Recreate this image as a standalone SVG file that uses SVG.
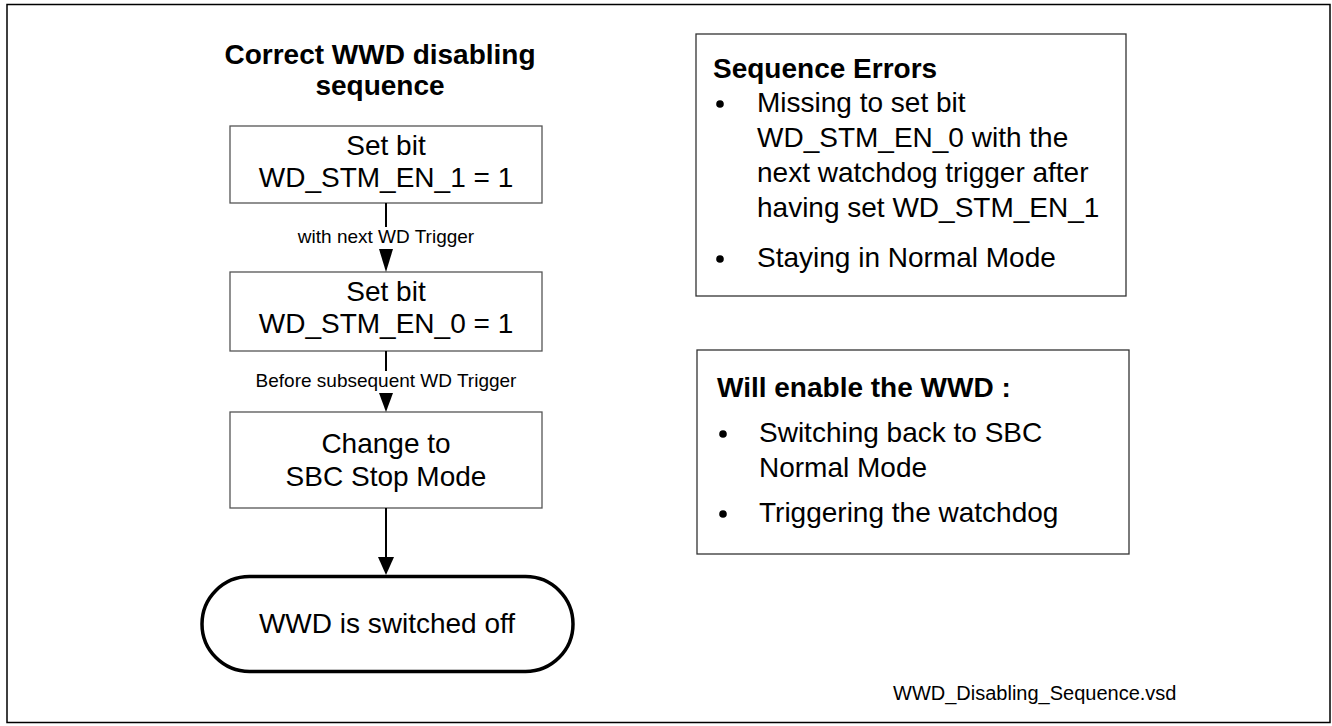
<svg xmlns="http://www.w3.org/2000/svg" width="1332" height="726" viewBox="0 0 1332 726">
<style>
text{font-family:"Liberation Sans",Arial,sans-serif;fill:#000}
.t{font-size:28px;text-anchor:middle}
.b{font-size:28px;font-weight:bold}
.bt{font-size:28px;font-weight:bold;text-anchor:middle}
.r{font-size:28px}
.lbl{font-size:19px;text-anchor:middle}
.box{fill:#fff;stroke:#555;stroke-width:1.3}
.panel{fill:#fff;stroke:#333;stroke-width:1.3}
.ln{stroke:#000;stroke-width:2;fill:none}
.ah{fill:#000}
</style>
<rect x="7" y="4.5" width="1323" height="718" fill="#fff" stroke="#000" stroke-width="1.5"/>
<g id="title">
<text class="bt" x="380" y="64">Correct WWD disabling</text>
<text class="bt" x="380" y="95">sequence</text>
</g>
<g id="n1">
<rect class="box" x="230" y="126" width="312" height="77"/>
<text class="t" x="386" y="155">Set bit</text>
<text class="t" x="386" y="187">WD_STM_EN_1 = 1</text>
</g>
<g id="n2">
<rect class="box" x="230" y="272" width="312" height="79"/>
<text class="t" x="386" y="301">Set bit</text>
<text class="t" x="386" y="333">WD_STM_EN_0 = 1</text>
</g>
<g id="n3">
<rect class="box" x="230" y="412" width="312" height="96"/>
<text class="t" x="386" y="453">Change to</text>
<text class="t" x="386" y="486">SBC Stop Mode</text>
</g>
<g id="n4">
<rect x="202" y="576.5" width="371" height="95" rx="47.5" ry="47.5" fill="#fff" stroke="#000" stroke-width="3.5"/>
<text class="t" x="387" y="633">WWD is switched off</text>
</g>
<g id="connectors">
<line class="ln" x1="386" y1="203" x2="386" y2="227"/>
<text class="lbl" x="386" y="243">with next WD Trigger</text>
<polygon class="ah" points="379,249 393,249 386,272"/>
<line class="ln" x1="386" y1="351" x2="386" y2="371"/>
<text class="lbl" x="386" y="387">Before subsequent WD Trigger</text>
<polygon class="ah" points="379,393 393,393 386,412"/>
<line class="ln" x1="386" y1="508" x2="386" y2="560" stroke-width="2.5"/>
<polygon class="ah" points="378,557 394,557 386,575"/>
</g>
<g id="errors">
<rect class="panel" x="696" y="34" width="430" height="262"/>
<text class="b" x="713" y="78">Sequence Errors</text>
<circle cx="720" cy="104" r="3.8"/>
<text class="r" x="757" y="112">Missing to set bit</text>
<text class="r" x="757" y="147">WD_STM_EN_0 with the</text>
<text class="r" x="757" y="182">next watchdog trigger after</text>
<text class="r" x="757" y="217">having set WD_STM_EN_1</text>
<circle cx="720" cy="259" r="3.8"/>
<text class="r" x="757" y="267">Staying in Normal Mode</text>
</g>
<g id="enable">
<rect class="panel" x="697" y="350" width="432" height="204"/>
<text class="b" x="717" y="397">Will enable the WWD :</text>
<circle cx="723" cy="434" r="3.8"/>
<text class="r" x="759" y="442">Switching back to SBC</text>
<text class="r" x="759" y="477">Normal Mode</text>
<circle cx="723" cy="514" r="3.8"/>
<text class="r" x="759" y="522">Triggering the watchdog</text>
</g>
<text id="filename" x="893" y="700" style="font-size:20px">WWD_Disabling_Sequence.vsd</text>
</svg>
